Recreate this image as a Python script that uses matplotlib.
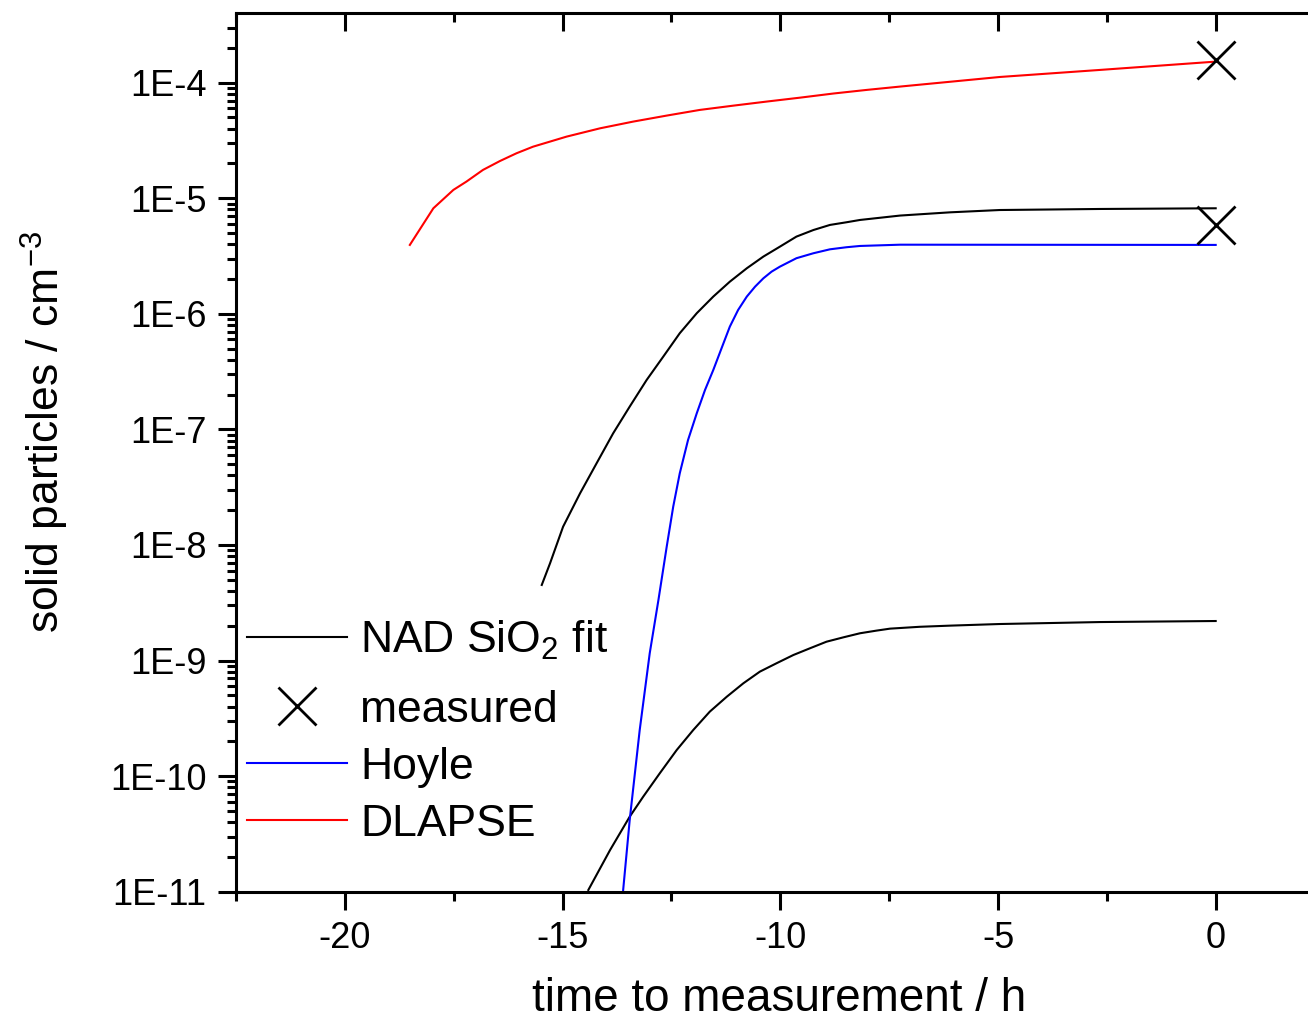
import matplotlib
matplotlib.use("Agg")
import numpy as np
import matplotlib.pyplot as plt
from matplotlib.ticker import FixedLocator, LogLocator, NullFormatter, MultipleLocator
from matplotlib.lines import Line2D

plt.rcParams['font.family'] = ['Liberation Sans', 'DejaVu Sans']
plt.rcParams['mathtext.fontset'] = 'custom'
plt.rcParams['mathtext.rm'] = 'Liberation Sans'
plt.rcParams['mathtext.it'] = 'Liberation Sans:italic'
plt.rcParams['mathtext.bf'] = 'Liberation Sans:bold'

# ---- data; concentrations given as log10 values ----
dlapse_t = [-18.51, -17.97, -17.51, -17.21, -16.83, -16.44, -16.06, -15.68, -15.29,
            -14.91, -14.14, -13.38, -12.61, -11.85, -11.08, -10.32, -9.55, -8.78,
            -8.02, -7.25, -4.96, -2.66, 0.0]
dlapse_log = [-5.404, -5.087, -4.928, -4.856, -4.755, -4.678, -4.611, -4.554, -4.510,
              -4.467, -4.395, -4.337, -4.285, -4.236, -4.199, -4.164, -4.130, -4.094,
              -4.063, -4.034, -3.951, -3.890, -3.818]

nad_hi_t = [-15.48, -15.29, -14.99, -14.60, -14.22, -13.84, -13.46, -13.07, -12.69,
            -12.31, -11.92, -11.54, -11.16, -10.77, -10.39, -10.01, -9.63, -9.24,
            -8.86, -8.48, -8.17, -7.25, -6.10, -4.96, -2.66, 0.0]
nad_hi_log = [-8.346, -8.159, -7.842, -7.553, -7.293, -7.034, -6.803, -6.572, -6.371,
              -6.168, -5.995, -5.851, -5.722, -5.606, -5.505, -5.419, -5.332, -5.275,
              -5.231, -5.208, -5.188, -5.150, -5.122, -5.102, -5.093, -5.087]

nad_lo_t = [-14.41, -13.91, -13.46, -13.15, -12.77, -12.38, -12.00, -11.62, -11.23,
            -10.85, -10.47, -10.09, -9.70, -9.32, -8.94, -8.55, -8.17, -7.79, -7.48,
            -6.80, -6.10, -4.96, -2.66, 0.0]
nad_lo_log = [-10.985, -10.639, -10.351, -10.178, -9.976, -9.774, -9.601, -9.442,
              -9.313, -9.197, -9.096, -9.024, -8.952, -8.894, -8.837, -8.799, -8.764,
              -8.741, -8.724, -8.708, -8.698, -8.684, -8.667, -8.658]

hoyle_t = [-13.61, -13.46, -13.23, -13.00, -12.80, -12.61, -12.46, -12.31, -12.12,
           -11.92, -11.73, -11.54, -11.35, -11.16, -10.97, -10.77, -10.58, -10.39,
           -10.20, -10.01, -9.63, -9.24, -8.86, -8.48, -8.17, -7.25, 0.0]
hoyle_log = [-10.985, -10.380, -9.601, -8.937, -8.476, -8.015, -7.668, -7.380, -7.092,
             -6.861, -6.659, -6.486, -6.298, -6.111, -5.967, -5.851, -5.765, -5.693,
             -5.635, -5.592, -5.519, -5.476, -5.442, -5.424, -5.413, -5.402, -5.404]

meas_t = [0.0, 0.0]
meas_n = [1.57e-4, 5.87e-6]

x_major = [-20, -15, -10, -5, 0]
x_labels = ['-20', '-15', '-10', '-5', '0']
y_major = [1e-11, 1e-10, 1e-9, 1e-8, 1e-7, 1e-6, 1e-5, 1e-4]
y_labels = ['1E-11', '1E-10', '1E-9', '1E-8', '1E-7', '1E-6', '1E-5', '1E-4']

# ---- figure ----
W, H = 1308, 1024
fig = plt.figure(figsize=(W / 100, H / 100), dpi=100)
ax_l, ax_r, ax_t, ax_b = 235.7, 1308.0, 13.3, 891.7
ax = fig.add_axes([ax_l / W, 1 - ax_b / H, (ax_r - ax_l) / W, (ax_b - ax_t) / H])

lw = 1.5
ax.plot(nad_hi_t, np.power(10.0, nad_hi_log), color='black', lw=lw, zorder=3)
ax.plot(nad_lo_t, np.power(10.0, nad_lo_log), color='black', lw=lw, zorder=3)
ax.plot(hoyle_t, np.power(10.0, hoyle_log), color='#0000ff', lw=lw, zorder=3)
ax.plot(dlapse_t, np.power(10.0, dlapse_log), color='#ff0000', lw=lw, zorder=3)
ax.plot(meas_t, meas_n, ls='none', marker='x', ms=27, mew=2.0, color='black',
        zorder=4, clip_on=False)

ax.set_yscale('log')
ax.set_xlim(-22.51, (1308 - 1215.7) / 43.53)
ax.set_ylim(1e-11, 10 ** -3.4)

ax.xaxis.set_major_locator(FixedLocator(x_major))
ax.set_xticklabels(x_labels)
ax.xaxis.set_minor_locator(MultipleLocator(2.5))
ax.yaxis.set_major_locator(FixedLocator(y_major))
ax.set_yticklabels(y_labels)
ax.yaxis.set_minor_locator(LogLocator(base=10, subs=[2, 3, 4, 5, 6, 7, 8, 9], numticks=30))
ax.yaxis.set_minor_formatter(NullFormatter())

for s in ['left', 'bottom']:
    ax.spines[s].set_linewidth(2.2)
ax.spines['right'].set_visible(False)
ax.spines['top'].set_visible(False)

ax.tick_params(axis='both', which='major', direction='out', length=13, width=2.2,
               labelsize=26, pad=8)
ax.tick_params(axis='both', which='minor', direction='out', length=6.5, width=2.2)
ax.tick_params(axis='x', top=False)

# top axis with inward ticks
sec = ax.secondary_xaxis('top')
sec.spines['top'].set_linewidth(2.2)
sec.xaxis.set_major_locator(FixedLocator(x_major))
sec.xaxis.set_minor_locator(MultipleLocator(2.5))
sec.tick_params(which='major', direction='in', length=13, width=2.2, labeltop=False)
sec.tick_params(which='minor', direction='in', length=6.5, width=2.2)

ax.set_xlabel('time to measurement / h', fontsize=33, labelpad=15)
ax.xaxis.label.set_x((779 - ax_l) / (ax_r - ax_l))
ax.set_ylabel('solid particles / cm$^{-3}$', fontsize=32, labelpad=28)
ax.yaxis.label.set_y((ax_b - 432) / (ax_b - ax_t))


def ay(py):
    return (ax_b - py) / (ax_b - ax_t)


leg_x = (247 - ax_l) / (ax_r - ax_l)
leg_kw = dict(loc='center left', frameon=False, fontsize=32, handlelength=2.25,
              handletextpad=0.29, borderpad=0, borderaxespad=0)

leg1 = ax.legend([Line2D([], [], color='black', lw=lw)], ['NAD SiO$_2$ fit'],
                 bbox_to_anchor=(leg_x, ay(640)), **leg_kw)
ax.add_artist(leg1)
handles2 = [
    Line2D([], [], color='black', ls='none', marker='x', ms=27, mew=2.0),
    Line2D([], [], color='#0000ff', lw=lw),
    Line2D([], [], color='#ff0000', lw=lw),
]
ax.legend(handles2, ['measured', 'Hoyle', 'DLAPSE'], bbox_to_anchor=(leg_x, ay(767)),
          labelspacing=0.36, **leg_kw)

fig.savefig('out.png', dpi=100)
